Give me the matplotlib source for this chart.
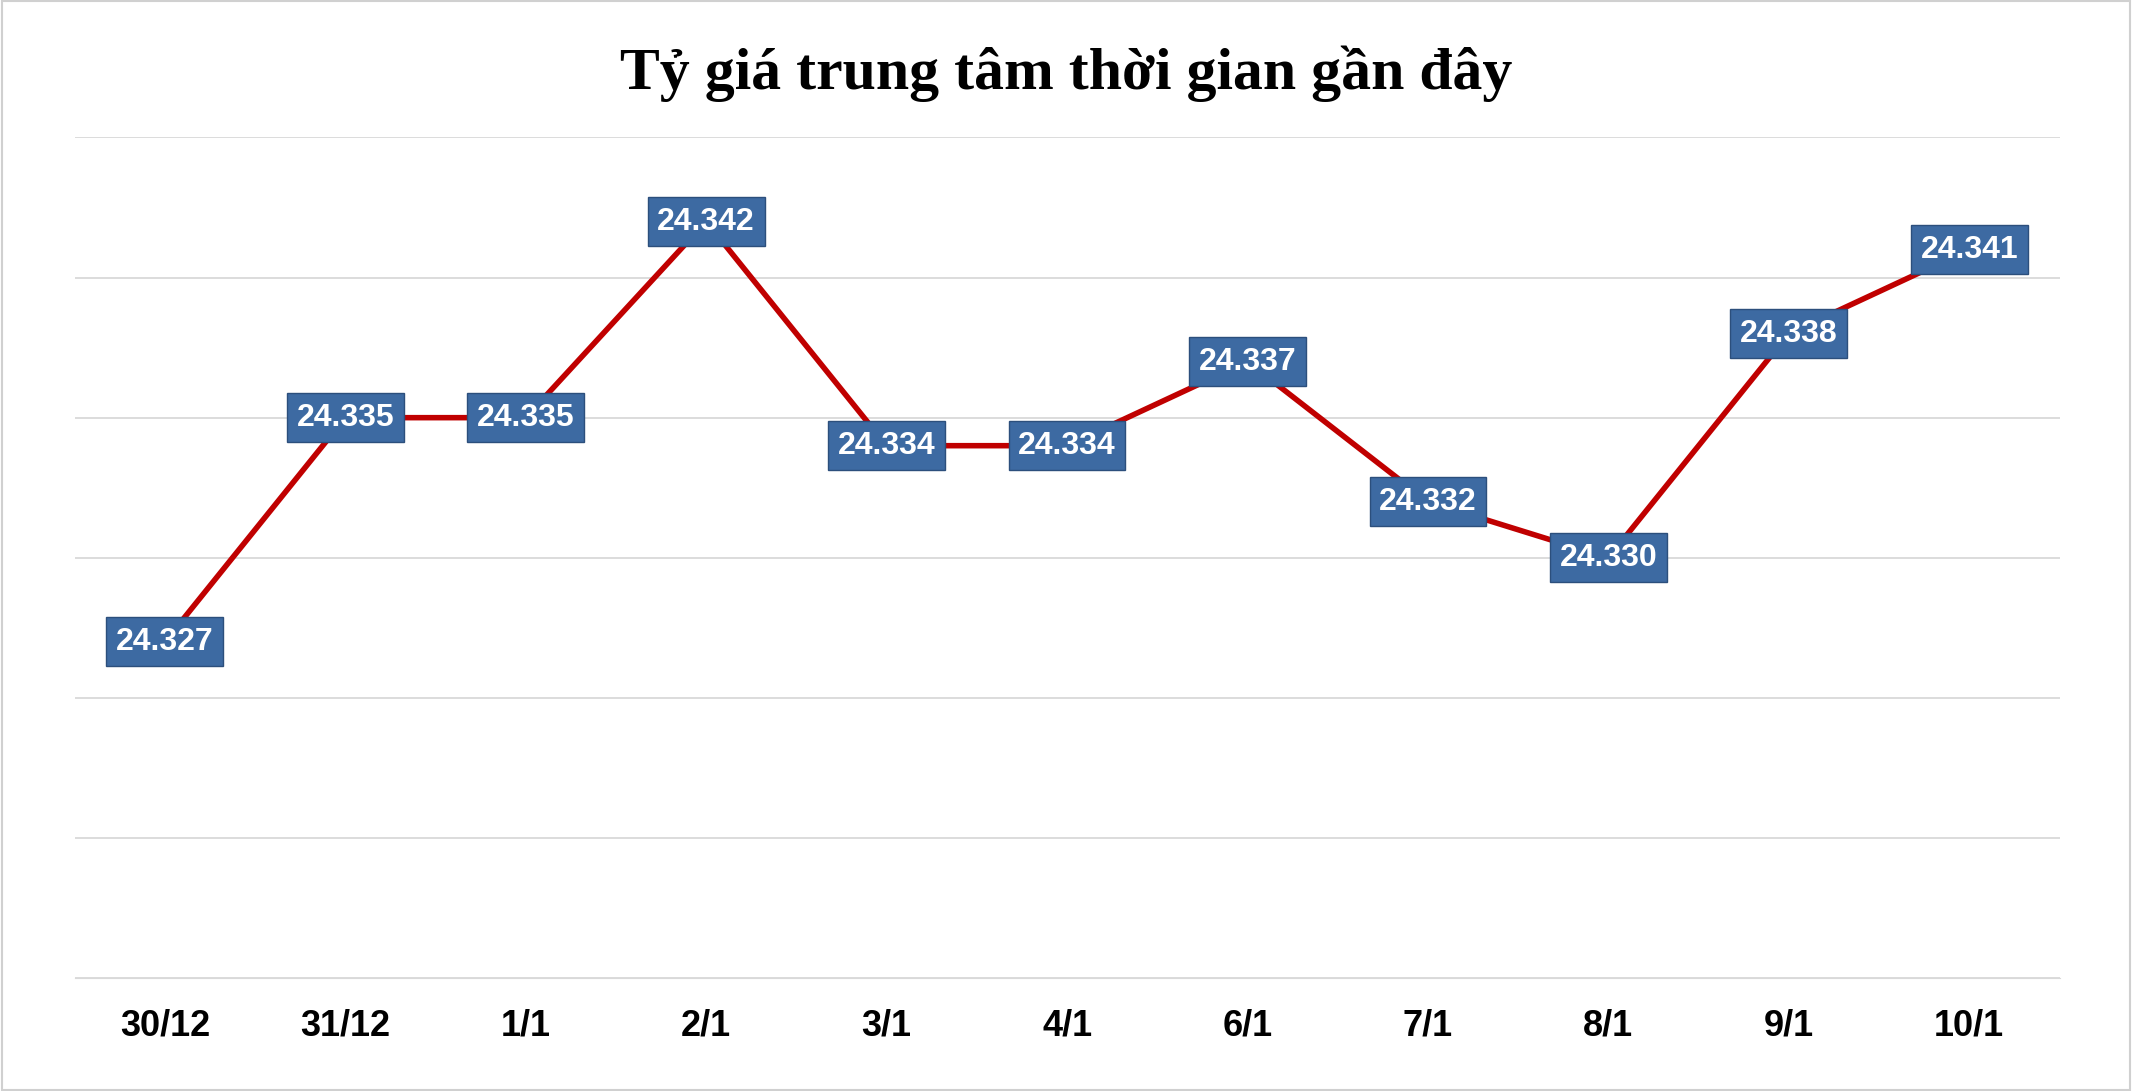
import matplotlib
matplotlib.use("Agg")
import matplotlib.pyplot as plt
from matplotlib.patches import Rectangle

categories = ["30/12", "31/12", "1/1", "2/1", "3/1", "4/1", "6/1", "7/1", "8/1", "9/1", "10/1"]
values = [24.327, 24.335, 24.335, 24.342, 24.334, 24.334, 24.337, 24.332, 24.330, 24.338, 24.341]
labels = ["24.327", "24.335", "24.335", "24.342", "24.334", "24.334", "24.337", "24.332", "24.330", "24.338", "24.341"]

fig = plt.figure(figsize=(21.32, 10.91), dpi=100)
fig.patches.append(Rectangle((0.001, 0.001), 0.998, 0.998, transform=fig.transFigure,
                             fill=False, edgecolor="#d0d0d0", linewidth=1.5))
ax = fig.add_axes([0.035, 0.1035, 0.931, 0.7705])
x = list(range(len(categories)))
ax.plot(x, values, color="#c00000", linewidth=4, zorder=2)
ax.set_xlim(-0.5, len(categories) - 0.5)
ax.set_ylim(24.315, 24.345)
ax.set_yticks([24.315 + 0.005 * i for i in range(7)])
ax.yaxis.grid(True, color="#d9d9d9", linewidth=1.3)
ax.set_yticklabels([])
ax.tick_params(axis="y", length=0)
ax.tick_params(axis="x", length=0, pad=22)
ax.set_xticks(x)
ax.set_xticklabels(categories, fontsize=26, fontweight="bold", family="Liberation Sans")
for s in ["top", "right", "left"]:
    ax.spines[s].set_visible(False)
ax.spines["bottom"].set_color("#d9d9d9")
ax.set_axisbelow(True)
for xi, v, l in zip(x, values, labels):
    ax.text(xi, v, l, ha="center", va="center", fontsize=23, fontweight="bold",
            family="Liberation Sans", color="white", zorder=3,
            bbox=dict(boxstyle="square,pad=0.3", facecolor="#3d6aa2", edgecolor="#2c4f7c", linewidth=1))
fig.text(0.5, 0.932, "Tỷ giá trung tâm thời gian gần đây", ha="center", va="center",
         fontsize=43, fontweight="bold", family="Liberation Serif")
fig.savefig("out.png", dpi=100)
